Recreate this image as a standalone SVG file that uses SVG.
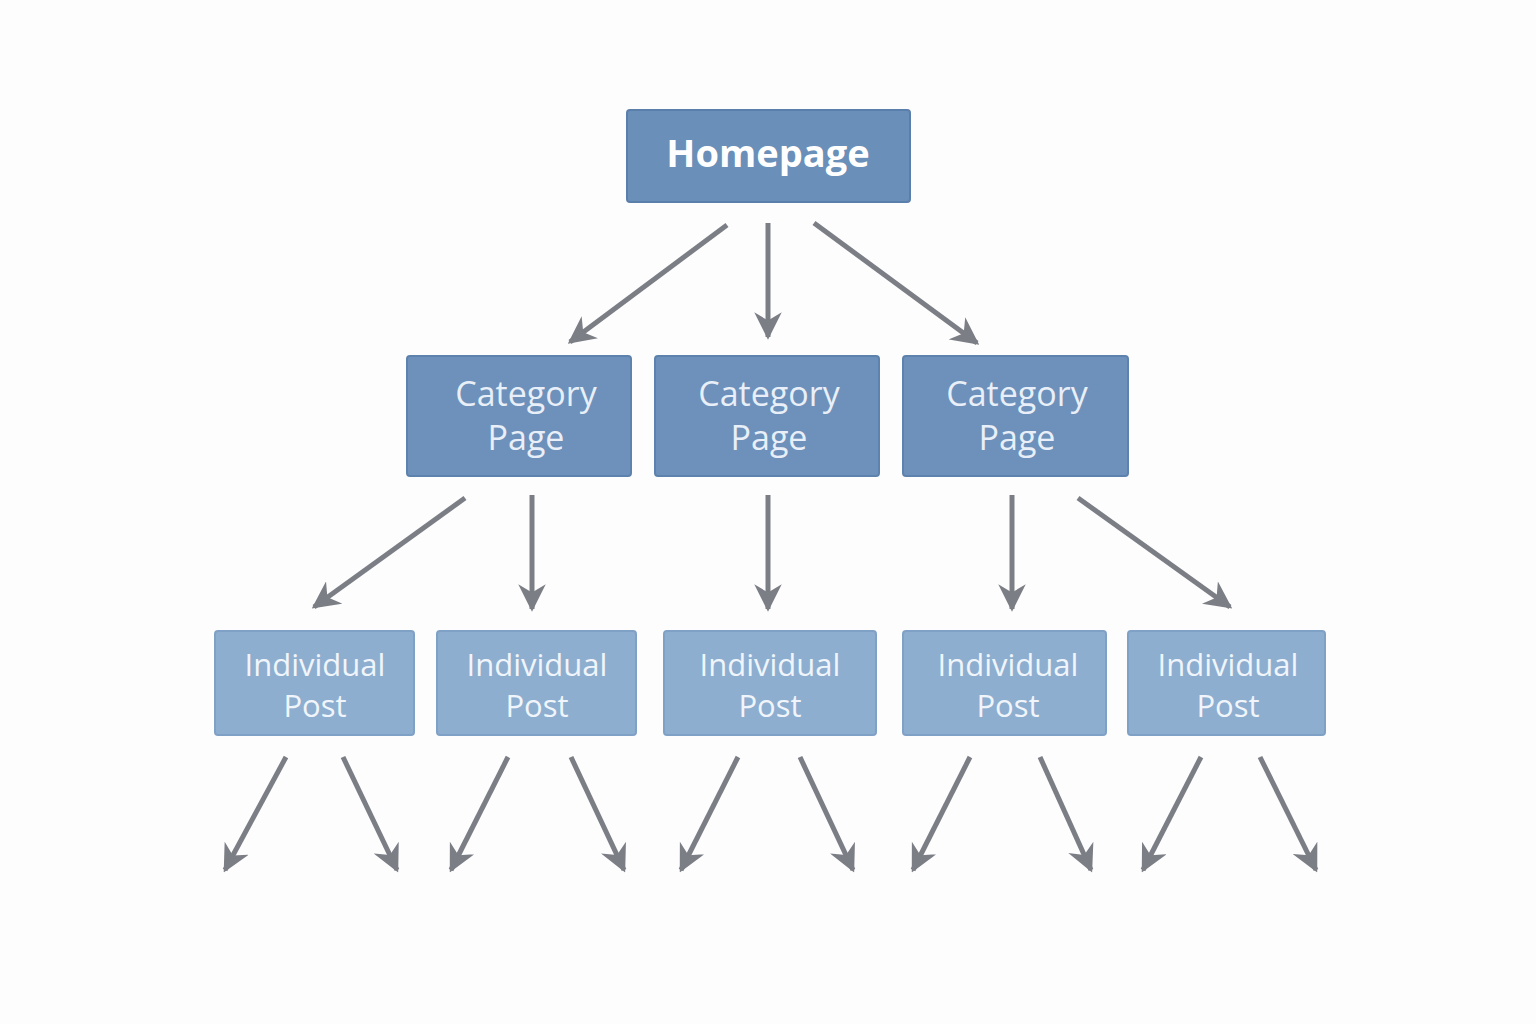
<svg xmlns="http://www.w3.org/2000/svg" width="1536" height="1024" viewBox="0 0 1536 1024">
<defs>
<style>
.home{fill:#6a8fb9;stroke:#5a7fab;stroke-width:2}
.cat{fill:#6d91ba;stroke:#5d82ad;stroke-width:2}
.post{fill:#8eaecf;stroke:#7fa1c6;stroke-width:2}
text{font-family:"Open Sans","Noto Sans",sans-serif;text-anchor:middle}
.th{fill:#fff;font-weight:bold;font-size:38px}
.tc{fill:#e8eff8;font-size:34px}
.tp{fill:#f0f5fb;font-size:31px}
.c line{stroke:#7c7e85;stroke-width:5;marker-end:url(#a)}
</style>
<marker id="a" viewBox="0 0 10 10" refX="9" refY="5" markerWidth="5.5" markerHeight="5.5" orient="auto" markerUnits="strokeWidth">
<path d="M0,0 L10,5 L0,10 L3,5 Z" fill="#7c7e85"/>
</marker>
</defs>
<rect width="1536" height="1024" fill="#fdfdfe"/>
<g id="homepage"><rect class="home" x="627" y="110" width="283" height="92" rx="3"/><text class="th" x="768" y="167">Homepage</text></g>
<g id="cat1"><rect class="cat" x="407" y="356" width="224" height="120" rx="3"/><text class="tc" x="526" y="406">Category</text><text class="tc" x="526" y="450">Page</text></g>
<g id="cat2"><rect class="cat" x="655" y="356" width="224" height="120" rx="3"/><text class="tc" x="769" y="406">Category</text><text class="tc" x="769" y="450">Page</text></g>
<g id="cat3"><rect class="cat" x="903" y="356" width="225" height="120" rx="3"/><text class="tc" x="1017" y="406">Category</text><text class="tc" x="1017" y="450">Page</text></g>
<g id="post1"><rect class="post" x="215" y="631" width="199" height="104" rx="3"/><text class="tp" x="315" y="676">Individual</text><text class="tp" x="315" y="717">Post</text></g>
<g id="post2"><rect class="post" x="437" y="631" width="199" height="104" rx="3"/><text class="tp" x="537" y="676">Individual</text><text class="tp" x="537" y="717">Post</text></g>
<g id="post3"><rect class="post" x="664" y="631" width="212" height="104" rx="3"/><text class="tp" x="770" y="676">Individual</text><text class="tp" x="770" y="717">Post</text></g>
<g id="post4"><rect class="post" x="903" y="631" width="203" height="104" rx="3"/><text class="tp" x="1008" y="676">Individual</text><text class="tp" x="1008" y="717">Post</text></g>
<g id="post5"><rect class="post" x="1128" y="631" width="197" height="104" rx="3"/><text class="tp" x="1228" y="676">Individual</text><text class="tp" x="1228" y="717">Post</text></g>
<g id="connectors" class="c">
<line x1="727" y1="225" x2="570" y2="342"/>
<line x1="768" y1="223" x2="768" y2="337"/>
<line x1="814" y1="223" x2="977" y2="343"/>
<line x1="465" y1="498" x2="314" y2="607"/>
<line x1="532" y1="495" x2="532" y2="609"/>
<line x1="768" y1="495" x2="768" y2="609"/>
<line x1="1012" y1="495" x2="1012" y2="609"/>
<line x1="1078" y1="498" x2="1230" y2="607"/>
<line x1="286" y1="757" x2="225" y2="870"/>
<line x1="343" y1="757" x2="397" y2="870"/>
<line x1="508" y1="757" x2="451" y2="870"/>
<line x1="571" y1="757" x2="624" y2="870"/>
<line x1="738" y1="757" x2="681" y2="870"/>
<line x1="800" y1="757" x2="853" y2="870"/>
<line x1="970" y1="757" x2="913" y2="870"/>
<line x1="1040" y1="757" x2="1091" y2="870"/>
<line x1="1201" y1="757" x2="1143" y2="870"/>
<line x1="1260" y1="757" x2="1316" y2="870"/>
</g>
</svg>
